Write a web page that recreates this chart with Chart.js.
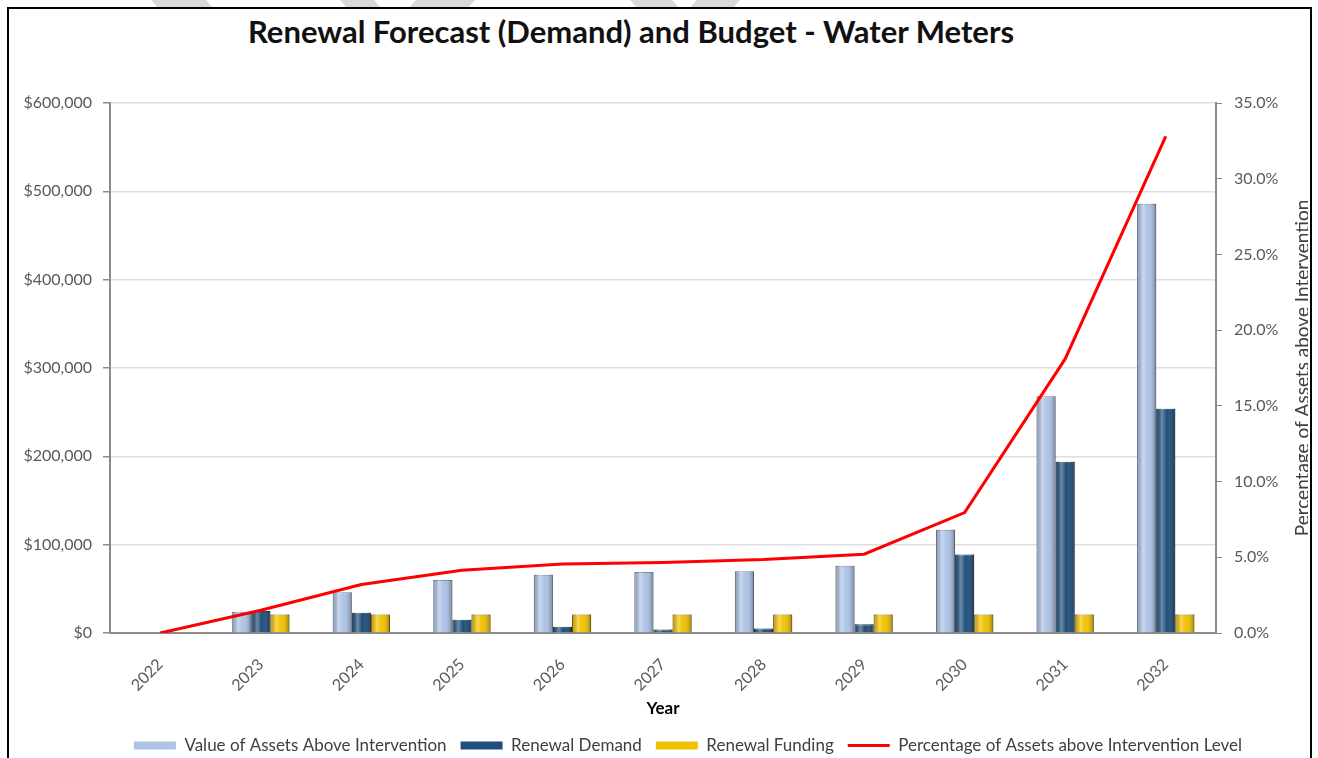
<!DOCTYPE html>
<html>
<head>
<meta charset="utf-8">
<script src="https://cdn.jsdelivr.net/npm/chart.js@4"></script>
<style>
  body { margin: 0; background: #fff; overflow: hidden; }
  #frame { position: absolute; left: 7px; top: 7px; width: 1301px; height: 800px; border: 2px solid #000; }
  #wm { position: absolute; left: 0; top: 0; }
  #title { position: absolute; left: 0; top: 12px; width: 1262px; text-align: center;
    font: bold 31px Lato, sans-serif; color: #111; }
  #wrap { position: absolute; left: 10px; top: 10px; width: 1298px; height: 756px; }
</style>
</head>
<body>
<svg id="wm" width="1318" height="9">
  <polygon points="151,0 206,0 214,9 159,9" fill="#d9d9d9"/>
  <polygon points="340,0 374,0 382,9 348,9" fill="#d9d9d9"/>
  <polygon points="416,0 475,0 467,9 408,9" fill="#d9d9d9"/>
  <polygon points="630,0 672,0 680,9 638,9" fill="#d9d9d9"/>
  <polygon points="697,0 740,0 732,9 689,9" fill="#d9d9d9"/>
</svg>
<div id="frame"></div>
<div id="title">Renewal Forecast (Demand) and Budget - Water Meters</div>
<div id="wrap"><canvas id="chart"></canvas></div>
<script>
// ======== Data ========
const years = ["2022", "2023", "2024", "2025", "2026", "2027", "2028", "2029", "2030", "2031", "2032"];
const assetsAboveIntervention = [0, 24000, 46000, 60000, 66000, 69000, 70000, 76000, 117000, 268000, 486000];
const renewalDemand = [0, 25000, 23000, 15000, 7000, 4000, 5000, 10000, 89000, 194000, 254000];
const renewalFunding = [0, 21000, 21000, 21000, 21000, 21000, 21000, 21000, 21000, 21000, 21000];
const pctAboveIntervention = [0, 1.5, 3.2, 4.15, 4.55, 4.65, 4.85, 5.2, 7.95, 18.1, 32.8];

const FONT = "Lato, sans-serif";
const GREY = "#595959";

// right axis title, reads bottom to top like the original
const rightTitle = {
  id: "rightTitle",
  afterDraw(chart) {
    const { ctx, chartArea } = chart;
    ctx.save();
    ctx.translate(1293, (chartArea.top + chartArea.bottom) / 2);
    ctx.rotate(-Math.PI / 2);
    ctx.font = "19px " + FONT;
    ctx.fillStyle = "#404040";
    ctx.textAlign = "center";
    ctx.textBaseline = "middle";
    ctx.fillText("Percentage of Assets above Intervention", 0, 0);
    ctx.restore();
  },
};

// legend sits a little right of centre in the original
const legendShift = {
  id: "legendShift",
  afterLayout(chart) {
    chart.legend.left += 29;
    chart.legend.right += 29;
  },
};

// shading so the bars look a bit like the bevelled excel columns
const barShade = {
  id: "barShade",
  afterDatasetDraw(chart, args) {
    if (args.meta.type !== "bar") return;
    const ctx = chart.ctx;
    args.meta.data.forEach((bar) => {
      const { x, y, base, width } = bar.getProps(["x", "y", "base", "width"], true);
      if (base - y < 1) return;
      const left = x - width / 2;
      const g = ctx.createLinearGradient(left, 0, left + width, 0);
      g.addColorStop(0, "rgba(0,0,0,0.18)");
      g.addColorStop(0.3, "rgba(255,255,255,0.35)");
      g.addColorStop(0.55, "rgba(255,255,255,0)");
      g.addColorStop(1, "rgba(0,0,0,0.35)");
      ctx.save();
      ctx.fillStyle = g;
      ctx.fillRect(left, y, width, base - y);
      ctx.restore();
    });
  },
};

new Chart(document.getElementById("chart").getContext("2d"), {
  type: "bar",
  data: {
    labels: years,
    datasets: [
      {
        label: "Value of Assets Above Intervention",
        data: assetsAboveIntervention,
        backgroundColor: "#adc3e6",
        borderColor: "#7586a3",
        borderWidth: 1,
        yAxisID: "y",
      },
      {
        label: "Renewal Demand",
        data: renewalDemand,
        backgroundColor: "#1f4e7c",
        borderColor: "#12304d",
        borderWidth: 1,
        yAxisID: "y",
      },
      {
        label: "Renewal Funding",
        data: renewalFunding,
        backgroundColor: "#f2c200",
        borderColor: "#8a6e00",
        borderWidth: 1,
        yAxisID: "y",
      },
      {
        type: "line",
        label: "Percentage of Assets above Intervention Level",
        data: pctAboveIntervention,
        borderColor: "#ff0000",
        backgroundColor: "#ff0000",
        borderWidth: 3,
        pointRadius: 0,
        tension: 0,
        order: -1,
        yAxisID: "y1",
      },
    ],
  },
  options: {
    responsive: true,
    maintainAspectRatio: false,
    animation: false,
    datasets: { bar: { categoryPercentage: 0.57, barPercentage: 1 } },
    layout: { padding: { top: 93, left: 0, right: 0, bottom: 2 } },
    plugins: {
      title: { display: false },
      tooltip: { enabled: false },
      legend: {
        position: "bottom",
        labels: {
          font: { family: FONT, size: 17 },
          color: "#404040",
          usePointStyle: true,
          pointStyleWidth: 42,
          padding: 14,
          sort: (a, b) => a.datasetIndex - b.datasetIndex,
          // flat bars for the columns, a thin stroke for the line
          generateLabels: (chart) =>
            Chart.defaults.plugins.legend.labels.generateLabels(chart).map((item) => {
              const isLine = chart.data.datasets[item.datasetIndex].type === "line";
              item.pointStyle = "line";
              item.strokeStyle = item.fillStyle;
              item.lineWidth = isLine ? 3 : 8;
              return item;
            }),
        },
      },
    },
    scales: {
      x: {
        grid: { display: false },
        border: { display: true, color: "#8c8c8c", width: 2 },
        ticks: {
          font: { family: FONT, size: 16 },
          color: GREY,
          minRotation: 45,
          maxRotation: 45,
          padding: 14,
        },
        title: {
          display: true,
          text: "Year",
          font: { family: FONT, size: 17, weight: "bold" },
          color: "#000",
          padding: { top: 0, bottom: 4 },
        },
        afterFit: (s) => { s.height = 90; },
      },
      y: {
        position: "left",
        min: 0,
        max: 600000,
        ticks: {
          stepSize: 100000,
          font: { family: FONT, size: 16 },
          color: GREY,
          padding: 11,
          callback: (v) => "$" + v.toLocaleString("en-US"),
        },
        grid: { color: "#dedede", lineWidth: 1.5, tickColor: "#8c8c8c", tickLength: 7 },
        border: { display: true, color: "#8c8c8c", width: 2 },
        afterFit: (s) => { s.width = 100; },
      },
      y1: {
        position: "right",
        min: 0,
        max: 35,
        ticks: {
          stepSize: 5,
          font: { family: FONT, size: 16 },
          color: GREY,
          padding: 12,
          callback: (v) => v.toFixed(1) + "%",
        },
        grid: { drawOnChartArea: false, tickColor: "#8c8c8c", tickLength: 6 },
        border: { display: true, color: "#8c8c8c", width: 2 },
        afterFit: (s) => { s.width = 92; },
      },
    },
  },
  plugins: [rightTitle, legendShift, barShade],
});
</script>
</body>
</html>
